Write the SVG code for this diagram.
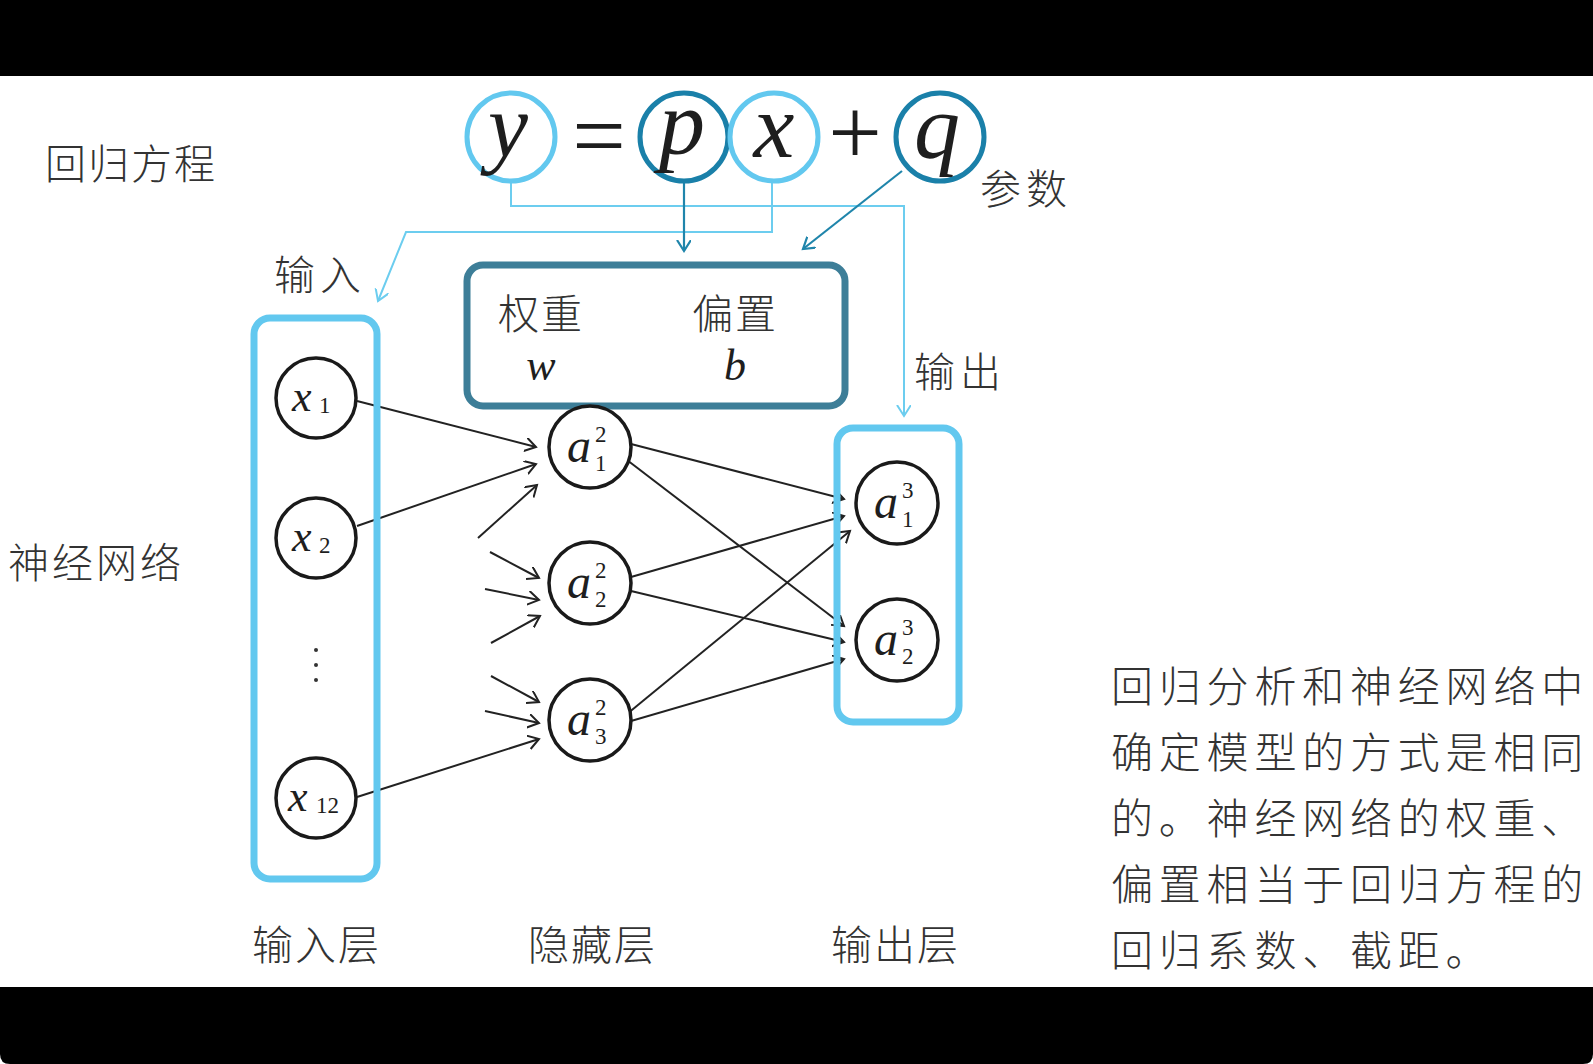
<svg xmlns="http://www.w3.org/2000/svg" width="1593" height="1064" viewBox="0 0 1593 1064">
<style>
.cjk{font-family:"Noto Sans CJK SC","Noto Sans",sans-serif;font-weight:300;fill:#333}
.it{font-family:"Liberation Serif",serif;font-style:italic;fill:#1e1e1e}
.rm{font-family:"Liberation Serif",serif;fill:#1e1e1e}
.nd{fill:#fff;stroke:#1a1a1a;stroke-width:3.5}
.lb{fill:none;stroke:#62c8ef;stroke-width:5}
.db{fill:none;stroke:#1a80a9;stroke-width:5}
.e{fill:none;stroke:#222;stroke-width:2;marker-end:url(#ah)}
.cl{fill:none;stroke:#6ccdef;stroke-width:2;marker-end:url(#ahl)}
.cd{fill:none;stroke:#1f85ab;stroke-width:2.2;marker-end:url(#ahd)}
</style>
<defs>
<marker id="ah" markerUnits="userSpaceOnUse" markerWidth="16" markerHeight="16" refX="11" refY="7" orient="auto"><path d="M0,0 L11,7 L0,14" fill="none" stroke="#222" stroke-width="2"/></marker>
<marker id="ahl" markerUnits="userSpaceOnUse" markerWidth="16" markerHeight="16" refX="11" refY="7" orient="auto"><path d="M0,0 L11,7 L0,14" fill="none" stroke="#6ccdef" stroke-width="2"/></marker>
<marker id="ahd" markerUnits="userSpaceOnUse" markerWidth="16" markerHeight="16" refX="11" refY="7" orient="auto"><path d="M0,0 L11,7 L0,14" fill="none" stroke="#1f85ab" stroke-width="2.2"/></marker>
</defs>
<rect x="0" y="0" width="1593" height="1064" fill="#fff"/>
<rect x="0" y="0" width="1593" height="76" fill="#000"/>
<path d="M0,987 H1593 V1054 Q1593,1064 1583,1064 H10 Q0,1064 0,1054 Z" fill="#000"/>

<g id="labels">
<text class="cjk" x="45" y="179" font-size="41" letter-spacing="2">回归方程</text>
<text class="cjk" x="8" y="578" font-size="41" letter-spacing="3">神经网络</text>
<text class="cjk" x="274" y="290" font-size="41" letter-spacing="5">输入</text>
<text class="cjk" x="914" y="387" font-size="41" letter-spacing="5">输出</text>
<text class="cjk" x="980" y="204" font-size="41" letter-spacing="5">参数</text>
<text class="cjk" x="252" y="960" font-size="41" letter-spacing="2">输入层</text>
<text class="cjk" x="528" y="960" font-size="41" letter-spacing="2">隐藏层</text>
<text class="cjk" x="831" y="960" font-size="41" letter-spacing="2">输出层</text>
</g>

<g id="note" class="cjk" font-size="42" letter-spacing="5.8">
<text x="1111" y="702">回归分析和神经网络中</text>
<text x="1111" y="768">确定模型的方式是相同</text>
<text x="1111" y="834">的。神经网络的权重、</text>
<text x="1111" y="900">偏置相当于回归方程的</text>
<text x="1111" y="966">回归系数、截距。</text>
</g>

<g id="connectors">
<polyline class="cl" points="511,183 511,206 904,206 904,416"/>
<polyline class="cl" points="772,183 772,232 406,232 378,301"/>
<line class="cd" x1="684" y1="183" x2="684" y2="251"/>
<line class="cd" x1="902" y1="171" x2="803" y2="249"/>
<line class="e" x1="357" y1="401" x2="536" y2="447"/>
<line class="e" x1="357" y1="526" x2="536" y2="464"/>
<line class="e" x1="478" y1="538" x2="537" y2="485"/>
<line class="e" x1="490" y1="552" x2="539" y2="578"/>
<line class="e" x1="485" y1="589" x2="539" y2="600"/>
<line class="e" x1="491" y1="643" x2="540" y2="616"/>
<line class="e" x1="491" y1="676" x2="539" y2="702"/>
<line class="e" x1="485" y1="711" x2="539" y2="723"/>
<line class="e" x1="357" y1="797" x2="539" y2="739"/>
<line class="e" x1="631" y1="444" x2="844" y2="499"/>
<line class="e" x1="627" y1="460" x2="844" y2="626"/>
<line class="e" x1="631" y1="577" x2="844" y2="516"/>
<line class="e" x1="631" y1="591" x2="844" y2="642"/>
<line class="e" x1="627" y1="714" x2="850" y2="531"/>
<line class="e" x1="631" y1="721" x2="844" y2="659"/>
</g>

<g id="eq-y"><circle class="lb" cx="511" cy="137" r="44"/><text class="it" x="508" y="157" font-size="90" text-anchor="middle">y</text></g>
<text id="eq-eq" class="rm" x="599" y="168" font-size="95" text-anchor="middle" fill="#333">=</text>
<g id="eq-p"><circle class="db" cx="684" cy="137" r="44"/><text class="it" x="682" y="154" font-size="92" text-anchor="middle">p</text></g>
<g id="eq-x"><circle class="lb" cx="774" cy="137" r="44"/><text class="it" x="774" y="157" font-size="92" text-anchor="middle">x</text></g>
<text id="eq-plus" class="rm" x="855" y="164" font-size="95" text-anchor="middle" fill="#333">+</text>
<g id="eq-q"><circle class="db" cx="940" cy="137" r="44"/><text class="it" x="937" y="158" font-size="92" text-anchor="middle">q</text></g>

<g id="params">
<rect x="467" y="265" width="378" height="141" rx="16" fill="#fff" stroke="#3d7e98" stroke-width="7"/>
<text class="cjk" x="498" y="329" font-size="41" letter-spacing="2">权重</text>
<text class="cjk" x="692" y="329" font-size="41" letter-spacing="2">偏置</text>
<text class="it" x="541" y="380" font-size="44" text-anchor="middle">w</text>
<text class="it" x="735" y="380" font-size="44" text-anchor="middle">b</text>
</g>

<g id="input-layer"><rect x="254" y="318" width="123" height="561" rx="16" fill="none" stroke="#62c8ef" stroke-width="7"/></g>
<g id="output-layer"><rect x="837" y="428" width="122" height="294" rx="16" fill="none" stroke="#62c8ef" stroke-width="7"/></g>

<g id="x1"><circle class="nd" cx="316" cy="398" r="40"/><text class="it" x="292" y="411" font-size="44">x</text><text class="rm" x="319" y="413" font-size="23">1</text></g>
<g id="x2"><circle class="nd" cx="316" cy="538" r="40"/><text class="it" x="292" y="551" font-size="44">x</text><text class="rm" x="319" y="553" font-size="23">2</text></g>
<g id="dots" fill="#333"><circle cx="316" cy="650" r="2"/><circle cx="316" cy="665" r="2"/><circle cx="316" cy="680" r="2"/></g>
<g id="x12"><circle class="nd" cx="316" cy="798" r="40"/><text class="it" x="288" y="811" font-size="44">x</text><text class="rm" x="316" y="813" font-size="23">12</text></g>

<g id="a21"><circle class="nd" cx="590" cy="447" r="41"/><text class="it" x="567" y="462" font-size="48">a</text><text class="rm" x="595" y="442" font-size="23">2</text><text class="rm" x="595" y="471" font-size="23">1</text></g>
<g id="a22"><circle class="nd" cx="590" cy="583" r="41"/><text class="it" x="567" y="598" font-size="48">a</text><text class="rm" x="595" y="578" font-size="23">2</text><text class="rm" x="595" y="607" font-size="23">2</text></g>
<g id="a23"><circle class="nd" cx="590" cy="720" r="41"/><text class="it" x="567" y="735" font-size="48">a</text><text class="rm" x="595" y="715" font-size="23">2</text><text class="rm" x="595" y="744" font-size="23">3</text></g>
<g id="a31"><circle class="nd" cx="897" cy="503" r="41"/><text class="it" x="874" y="518" font-size="48">a</text><text class="rm" x="902" y="498" font-size="23">3</text><text class="rm" x="902" y="527" font-size="23">1</text></g>
<g id="a32"><circle class="nd" cx="897" cy="640" r="41"/><text class="it" x="874" y="655" font-size="48">a</text><text class="rm" x="902" y="635" font-size="23">3</text><text class="rm" x="902" y="664" font-size="23">2</text></g>
</svg>
